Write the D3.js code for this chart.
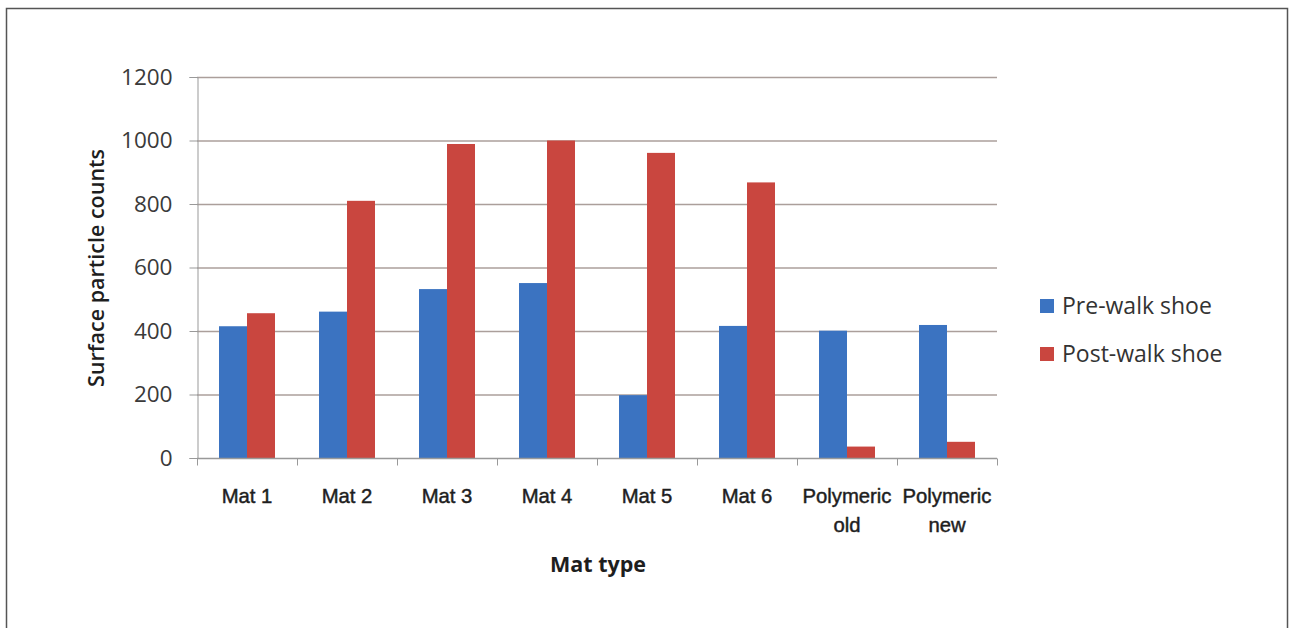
<!DOCTYPE html>
<html><head><meta charset="utf-8">
<script src="https://cdn.jsdelivr.net/npm/d3@7"></script>
<style>
html,body{margin:0;padding:0;background:#fff;}
svg{display:block;}
</style></head>
<body>
<svg id="chart" width="1290" height="628"></svg>
<script>
const categories = [["Mat 1"],["Mat 2"],["Mat 3"],["Mat 4"],["Mat 5"],["Mat 6"],["Polymeric","old"],["Polymeric","new"]];
const seriesNames = ["Pre-walk shoe","Post-walk shoe"];
const preWalk = [415, 461, 532, 551, 198, 416, 401, 419];
const postWalk = [456, 810, 989, 1000, 961, 868, 36, 51];
const yTicks = [0, 200, 400, 600, 800, 1000, 1200];
const colors = ["#3b73c1", "#c9463f"];

const svg = d3.select("#chart");
svg.append("rect").attr("x",6.5).attr("y",8.5).attr("width",1281).attr("height",640)
  .attr("fill","none").attr("stroke","#555").attr("stroke-width",1.5);

const m = {left:197, right:997, top:77, bottom:458};
const x = d3.scaleBand().domain(d3.range(categories.length)).range([m.left, m.right]).paddingInner(0).paddingOuter(0);
const xs = d3.scaleBand().domain([0,1]).range([0, 56]);
const y = d3.scaleLinear().domain([0,1200]).range([m.bottom, m.top]);

const labelFont = "'Open Sans', 'Liberation Sans', sans-serif";
const arialFont = "'Liberation Sans', Arial, sans-serif";

// grid
svg.append("g").selectAll("line").data(yTicks.filter(d=>d>0)).join("line")
  .attr("x1",m.left).attr("x2",m.right).attr("y1",d=>y(d)+0.5).attr("y2",d=>y(d)+0.5)
  .attr("stroke","#ab9f9b").attr("stroke-width",1.3);

// y axis
const yAxis = svg.append("g").attr("transform",`translate(${m.left+0.5},0)`)
  .call(d3.axisLeft(y).tickValues(yTicks).tickSize(8).tickPadding(17).tickFormat(d3.format("d")));
yAxis.select(".domain").attr("stroke","#999");
yAxis.selectAll(".tick line").attr("stroke","#999");
yAxis.selectAll("text").attr("font-family",labelFont).attr("font-size",22.5).attr("fill","#3a3a3a");

// bars
const groups = svg.append("g").selectAll("g").data(categories).join("g")
  .attr("transform",(d,i)=>`translate(${x(i)+22},0)`);
[preWalk, postWalk].forEach((vals, s) => {
  groups.append("rect")
    .attr("x", xs(s)).attr("width", xs.bandwidth())
    .attr("y", (d,i)=>y(vals[i])).attr("height",(d,i)=>y(0)-y(vals[i]))
    .attr("fill", colors[s]);
});

// x axis
const xLine = svg.append("g").attr("transform",`translate(0,${m.bottom+0.5})`);
xLine.append("line").attr("x1",m.left).attr("x2",m.right).attr("stroke","#999").attr("stroke-width",1.3);
const bounds = d3.range(categories.length+1).map(i => i<categories.length ? x(i) : m.right);
xLine.selectAll(".tk").data(bounds).join("line").attr("class","tk")
  .attr("x1",d=>d+0.5).attr("x2",d=>d+0.5).attr("y1",0).attr("y2",7).attr("stroke","#999");

const xl = svg.append("g").selectAll("text").data(categories).join("text")
  .attr("x",(d,i)=>x(i)+x.bandwidth()/2).attr("y",503)
  .attr("text-anchor","middle").attr("font-family",arialFont).attr("font-size",20.3)
  .attr("fill","#1e1e1e").attr("stroke","#1e1e1e").attr("stroke-width",0.45);
xl.each(function(d){
  const t = d3.select(this);
  d.forEach((line,k)=>t.append("tspan").attr("x",t.attr("x")).attr("dy",k===0?0:28.5).text(line));
});

// axis titles
svg.append("text").attr("x",598).attr("y",572).attr("text-anchor","middle")
  .attr("font-family",labelFont).attr("font-size",21.5).attr("font-weight","bold").attr("fill","#1e1e1e")
  .text("Mat type");
svg.append("text").attr("transform","translate(104,268) rotate(-90)").attr("text-anchor","middle")
  .attr("font-family",labelFont).attr("font-size",21.5).attr("font-weight",600).attr("fill","#1e1e1e")
  .text("Surface particle counts");

// legend
const lg = svg.append("g").selectAll("g").data(seriesNames).join("g")
  .attr("transform",(d,i)=>`translate(1040,${299+i*48})`);
lg.append("rect").attr("width",14).attr("height",14).attr("fill",(d,i)=>colors[i]);
lg.append("text").attr("x",22).attr("y",15).attr("font-family",labelFont).attr("font-size",23)
  .attr("fill","#333").text(d=>d);
</script>
</body></html>
